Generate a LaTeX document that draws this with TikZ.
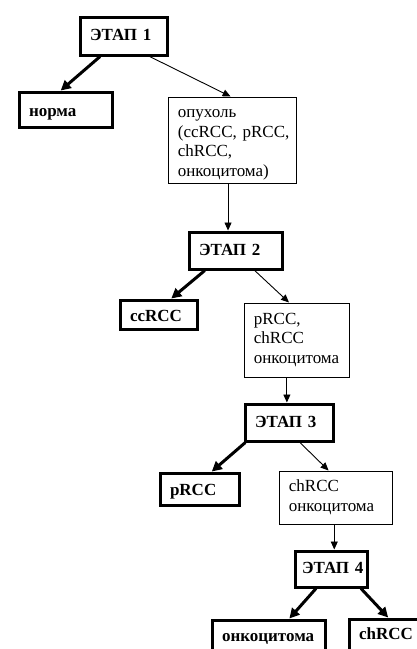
\documentclass[tikz,border=0pt]{standalone}
\usepackage{fontspec}
\setmainfont{Liberation Serif}
\usetikzlibrary{calc,arrows.meta}

\begin{document}
\begin{tikzpicture}[x=1pt,y=-1pt,
    every node/.style={anchor=north west,draw,align=left,inner xsep=10pt,inner ysep=2pt,font=\fontsize{17}{19.7}\selectfont},
    stagebox/.style={line width=3pt,text height=12pt,text depth=3pt,font=\fontsize{17}{19.7}\selectfont\bfseries},
    leafbox/.style={stagebox,text height=13pt,text depth=0pt},
    listbox/.style={line width=0.8pt},
    thickarr/.style={line width=3pt,-{Triangle[length=10pt,width=10pt]}},
    thinarr/.style={line width=0.9pt,-{Triangle[length=8pt,width=7pt]}}]

    \useasboundingbox (0,0) rectangle (417,649);

    % stage 1
    \node (e1) [stagebox,text width=67pt,minimum height=38pt] at (78.5,15.5) {ЭТАП~1};
    \node (norma) [leafbox,text width=73pt,minimum height=35pt] at (17.5,90.5) {норма};
    \node (tumor) [listbox,text width=108pt,minimum height=86pt] at (167.5,96.5)
        {\rule{0pt}{18pt}опухоль\\(ccRCC,~pRCC,\\chRCC,\\онкоцитома)};

    % stage 2
    \node (e2) [stagebox,text width=73pt,minimum height=37pt] at (187.5,230.5) {ЭТАП~2};
    \node (ccrcc) [leafbox,text width=57pt,minimum height=29pt] at (118.5,298.5) {ccRCC};
    \node (rest2) [listbox,text width=85pt,minimum height=74pt] at (243.5,302.5)
        {pRCC,\\chRCC\\онкоцитома};

    % stage 3
    \node (e3) [stagebox,text width=68pt,minimum height=37pt] at (243.5,402.5) {ЭТАП~3};
    \node (prcc) [leafbox,text width=59pt,minimum height=32pt] at (158.5,471.5) {pRCC};
    \node (rest3) [listbox,text width=93pt,minimum height=53pt] at (278.5,470.5)
        {chRCC\\онкоцитома};

    % stage 4 (bottom boxes run off the page)
    \node (e4) [stagebox,inner xsep=7pt,text width=58pt,minimum height=36pt] at (293.5,549.5) {ЭТАП~4};
    \node (onco) [leafbox,text height=9pt,text depth=6pt,text width=93pt,minimum height=40pt] at (210.5,618.5) {онкоцитома};
    \node (chrcc) [leafbox,text height=8pt,text depth=7pt,text width=60pt,minimum height=40pt] at (347.5,617.5) {chRCC};

    \draw[thickarr] ($(e1.south west)!0.24!(e1.south east)$) -- ($(norma.north west)!0.45!(norma.north east)$);
    \draw[thinarr] ($(e1.south west)!0.79!(e1.south east)$) -- ($(tumor.north west)!0.49!(tumor.north east)$);
    \draw[thinarr] ($(tumor.south west)!0.47!(tumor.south east)$) coordinate (t1) -- (t1 |- e2.north);

    \draw[thickarr] ($(e2.south west)!0.18!(e2.south east)$) -- ($(ccrcc.north west)!0.66!(ccrcc.north east)$);
    \draw[thinarr] ($(e2.south west)!0.70!(e2.south east)$) -- ($(rest2.north west)!0.43!(rest2.north east)$);
    \draw[thinarr] ($(rest2.south west)!0.41!(rest2.south east)$) coordinate (t2) -- (t2 |- e3.north);

    \draw[thickarr] ($(e3.south west)!0.02!(e3.south east)$) -- ($(prcc.north west)!0.65!(prcc.north east)$);
    \draw[thinarr] ($(e3.south west)!0.62!(e3.south east)$) -- ($(rest3.north west)!0.44!(rest3.north east)$);
    \draw[thinarr] ($(rest3.south west)!0.49!(rest3.south east)$) coordinate (t3) -- (t3 |- e4.north);

    \draw[thickarr] ($(e4.south west)!0.30!(e4.south east)$) -- ($(onco.north west)!0.68!(onco.north east)$);
    \draw[thickarr] ($(e4.south west)!0.90!(e4.south east)$) -- ($(chrcc.north west)!0.49!(chrcc.north east)$);

\end{tikzpicture}
\end{document}
